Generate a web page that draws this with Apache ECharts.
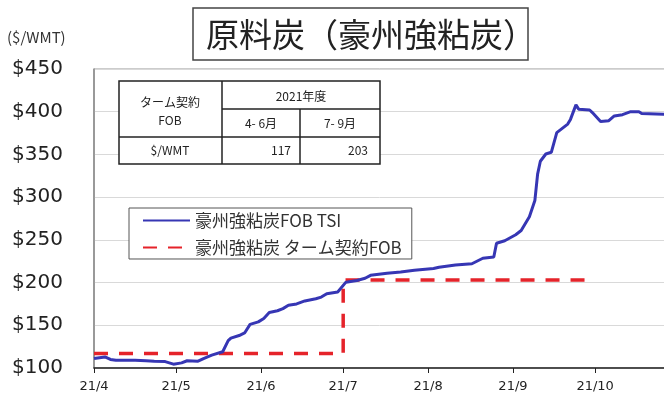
<!DOCTYPE html>
<html><head><meta charset="utf-8">
<script src="https://cdn.jsdelivr.net/npm/echarts@6/dist/echarts.min.js"></script>
<style>html,body{margin:0;padding:0;background:#fff}#c{width:664px;height:404px}</style>
</head><body><div id="c"></div>
<script>
const tsiDates = ['2021-04-01','2021-04-03','2021-04-05','2021-04-07','2021-04-09','2021-04-13','2021-04-16','2021-04-20','2021-04-23','2021-04-27','2021-04-30',
'2021-05-03','2021-05-05','2021-05-09','2021-05-11','2021-05-14','2021-05-18','2021-05-20','2021-05-21','2021-05-24','2021-05-26','2021-05-28','2021-05-31',
'2021-06-02','2021-06-04','2021-06-07','2021-06-09','2021-06-11','2021-06-14','2021-06-17','2021-06-21','2021-06-23','2021-06-25','2021-06-29',
'2021-07-02','2021-07-06','2021-07-09','2021-07-11','2021-07-17','2021-07-22','2021-07-27',
'2021-08-03','2021-08-05','2021-08-11','2021-08-17','2021-08-21','2021-08-25','2021-08-26','2021-08-29',
'2021-09-02','2021-09-04','2021-09-07','2021-09-09','2021-09-10','2021-09-11','2021-09-13','2021-09-15','2021-09-17','2021-09-21','2021-09-22','2021-09-24','2021-09-25','2021-09-29','2021-09-30',
'2021-10-03','2021-10-06','2021-10-08','2021-10-11','2021-10-14','2021-10-17','2021-10-18','2021-10-26','2021-10-31'];
const tsiValues = [111,112,113,110,109,109,109,108.5,108,107.5,104.5,
106,108.5,108,111,115,119,132,135,138,141,151,154,
158,165,167,169.5,173.5,175,178.5,181,183,187,189,
200.5,202.5,205,208.5,211,212.5,214.5,
216.5,218,220.5,222,228.5,230,246,249,
256,261,277,296,327,342,350.5,352.5,375.5,385.5,391,408,403,402,399,
388.5,389.5,395,396.5,400,400,398,397,397];
const termDates = ['2021-04-01','2021-07-01','2021-07-01','2021-09-30'];
const termValues = [117,117,203,203];
const seriesNames = ['豪州強粘炭FOB TSI','豪州強粘炭 ターム契約FOB'];
const titleText = '原料炭（豪州強粘炭）';
const unitText = '($/WMT)';
const tableHeader = ['ターム契約','FOB','2021年度','4- 6月','7- 9月','$/WMT'];
const tableValues = [117, 203];

const tsiData = tsiDates.map((d,i)=>[d,tsiValues[i]]);
const termData = termDates.map((d,i)=>[d,termValues[i]]);

const jp = '"Noto Sans CJK JP", sans-serif';
const tc = '#222';
const chart = echarts.init(document.getElementById('c'), null, {renderer:'canvas'});
const T = {x1:119, x2:222, x3:300, x4:380, y1:81, y2:109, y3:137, y4:164};
const tf = '12px '+jp;
const tableGraphics = [
  {type:'rect', shape:{x:T.x1,y:T.y1,width:T.x4-T.x1,height:T.y4-T.y1}, style:{fill:'#fff',stroke:'#222',lineWidth:1.5}, z:10},
  {type:'line', shape:{x1:T.x2,y1:T.y1,x2:T.x2,y2:T.y4}, style:{stroke:'#222',lineWidth:1.5}, z:11},
  {type:'line', shape:{x1:T.x3,y1:T.y2,x2:T.x3,y2:T.y4}, style:{stroke:'#222',lineWidth:1.5}, z:11},
  {type:'line', shape:{x1:T.x2,y1:T.y2,x2:T.x4,y2:T.y2}, style:{stroke:'#222',lineWidth:1.5}, z:11},
  {type:'line', shape:{x1:T.x1,y1:T.y3,x2:T.x4,y2:T.y3}, style:{stroke:'#222',lineWidth:1.5}, z:11},
  {type:'text', x:170, y:102, style:{text:tableHeader[0], font:tf, fill:tc, textAlign:'center', textVerticalAlign:'middle'}, z:12},
  {type:'text', x:170, y:120, style:{text:tableHeader[1], font:tf, fill:tc, textAlign:'center', textVerticalAlign:'middle'}, z:12},
  {type:'text', x:301, y:96, style:{text:tableHeader[2], font:tf, fill:tc, textAlign:'center', textVerticalAlign:'middle'}, z:12},
  {type:'text', x:261, y:123, style:{text:tableHeader[3], font:tf, fill:tc, textAlign:'center', textVerticalAlign:'middle'}, z:12},
  {type:'text', x:340, y:123, style:{text:tableHeader[4], font:tf, fill:tc, textAlign:'center', textVerticalAlign:'middle'}, z:12},
  {type:'text', x:170, y:150, style:{text:tableHeader[5], font:tf, fill:tc, textAlign:'center', textVerticalAlign:'middle'}, z:12},
  {type:'text', x:291, y:150, style:{text:String(tableValues[0]), font:tf, fill:tc, textAlign:'right', textVerticalAlign:'middle'}, z:12},
  {type:'text', x:368, y:150, style:{text:String(tableValues[1]), font:tf, fill:tc, textAlign:'right', textVerticalAlign:'middle'}, z:12}
];
chart.setOption({
  animation:false,
  backgroundColor:'#fff',
  grid:{left:94, top:69, width:586, height:299, show:true, borderColor:'#999', borderWidth:1, backgroundColor:'transparent', containLabel:false, outerBoundsMode:'none'},
  legend:{
    orient:'vertical', left:129, top:208, itemWidth:47, itemHeight:10, itemGap:10,
    borderColor:'#555', borderWidth:1, padding:[4,10,3,13], backgroundColor:'#fff',
    itemStyle:{opacity:0},
    textStyle:{fontFamily:jp, fontSize:17, color:'#333'}, data:seriesNames
  },
  xAxis:{
    type:'time', min:'2021-04-01', max:'2021-11-01', splitNumber:7,
    axisLine:{lineStyle:{color:'#222', width:1.5}},
    axisTick:{show:true, length:5, lineStyle:{color:'#222'}},
    splitLine:{show:false},
    axisLabel:{color:'#222', fontSize:13, fontFamily:'"DejaVu Sans", sans-serif', margin:12, hideOverlap:false,
      formatter:function(v){const d=new Date(v); return '21/'+(d.getMonth()+1);}}
  },
  yAxis:{
    type:'value', min:100, max:450, interval:50,
    axisLine:{show:true, lineStyle:{color:'#888', width:1.5}},
    axisTick:{show:false},
    splitLine:{lineStyle:{color:'#d9d9d9', width:1}},
    axisLabel:{color:'#222', fontSize:20, fontFamily:'"DejaVu Sans", sans-serif', margin:31, formatter:function(v){return '$'+v;}}
  },
  series:[
    {name:seriesNames[0], type:'line', data:tsiData, showSymbol:false, symbol:'none', z:3,
      lineStyle:{color:'#3636b4', width:3}, itemStyle:{color:'#3636b4'}},
    {name:seriesNames[1], type:'line', data:termData, showSymbol:false, symbol:'none', z:2,
      lineStyle:{color:'#e5232a', width:3.5, type:[14,11]}, itemStyle:{color:'#e5232a'}}
  ],
  graphic:[
    {type:'rect', shape:{x:193,y:8,width:335,height:52}, style:{fill:'#fff',stroke:'#444',lineWidth:1.5}},
    {type:'text', x:371, y:34, style:{text:titleText, font:'33px '+jp, fill:'#222', textAlign:'center', textVerticalAlign:'middle'}},
    {type:'text', x:7, y:37, style:{text:unitText, font:'15px '+jp, fill:'#333', textAlign:'left', textVerticalAlign:'middle'}}
  ].concat(tableGraphics)
});
</script></body></html>
